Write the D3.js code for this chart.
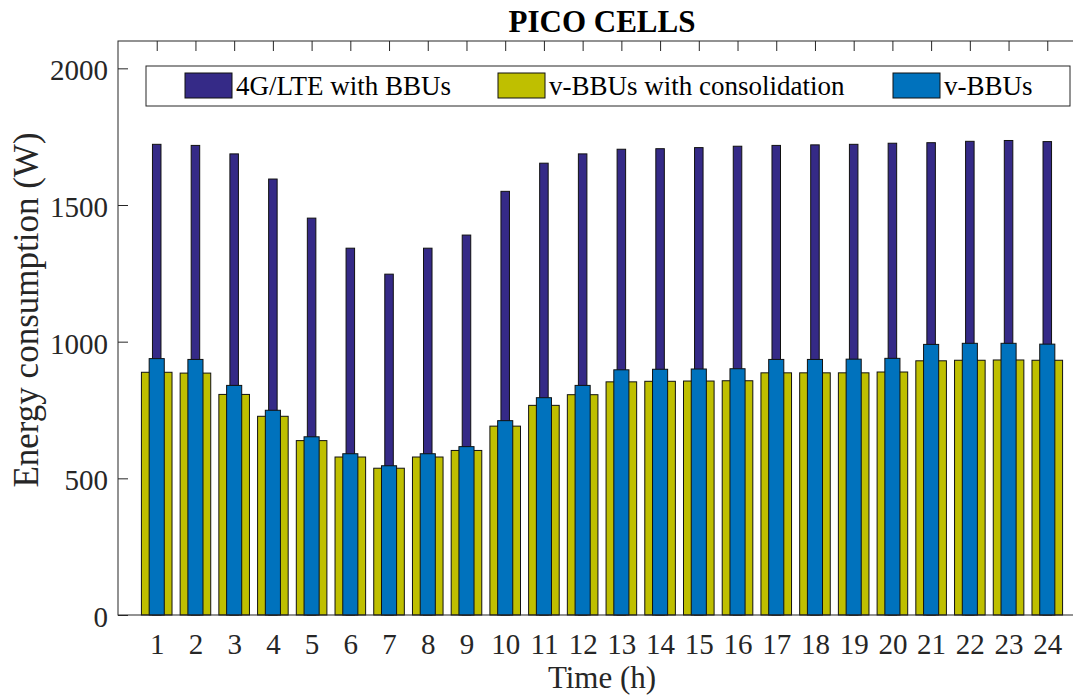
<!DOCTYPE html>
<html>
<head>
<meta charset="utf-8">
<script src="https://cdn.jsdelivr.net/npm/d3@7"></script>
<style>
  body { margin: 0; background: #fff; }
  svg { display: block; font-family: "Liberation Serif", "Times New Roman", serif; }
  .tick text { fill: #262626; }
  .tick line { stroke: #262626; }
</style>
</head>
<body>
<script>
'use strict';

// hours on the x axis
var hours = d3.range(1, 25);
// series values (W)
var lteBBU = [1722, 1718, 1687, 1595, 1452, 1342, 1247, 1342, 1390, 1550, 1653, 1687,
              1704, 1706, 1710, 1715, 1718, 1720, 1722, 1726, 1728, 1733, 1736, 1732];
var vbbuConsol = [888, 885, 807, 727, 638, 578, 537, 578, 602, 691, 767, 806,
                  853, 855, 856, 857, 886, 886, 886, 889, 930, 932, 933, 932];
var vbbu = [938, 935, 840, 749, 652, 590, 546, 590, 616, 711, 795, 840,
            897, 899, 900, 901, 935, 935, 936, 939, 990, 994, 994, 991];
var yTicks = [0, 500, 1000, 1500, 2000];
var seriesNames = ["4G/LTE with BBUs", "v-BBUs with consolidation", "v-BBUs"];
var seriesColors = ["#352a87", "#bfbf00", "#0072bd"];

var myChart = {};
myChart.width = 1073;
myChart.height = 696;
myChart.left = 118;
myChart.right = 1086;
myChart.top = 41;
myChart.bottom = 615;

myChart.x = d3.scaleLinear().domain([0, 25]).range([myChart.left, myChart.right]);
myChart.y = d3.scaleLinear().domain([0, 2100]).range([myChart.bottom, myChart.top]);

myChart.appendSvg = function(domObj){
    return d3.select(domObj)
        .append("svg")
        .attr("width", myChart.width)
        .attr("height", myChart.height);
}

myChart.appendAxes = function(svg){
    var x = myChart.x, y = myChart.y;

    svg.append("g")
        .attr("transform", "translate(" + myChart.left + ",0)")
        .call(d3.axisLeft(y).tickValues(yTicks).tickSize(-10).tickPadding(10).tickFormat(d3.format("d")))
        .call(function(g){
            g.select(".domain").remove();
            g.selectAll("text").attr("font-size", 29).attr("dy", "0.4em")
                .attr("font-family", "Liberation Serif");
        });

    svg.append("g")
        .attr("transform", "translate(0," + myChart.bottom + ")")
        .call(d3.axisBottom(x).tickValues(hours).tickSize(-10).tickPadding(18).tickFormat(d3.format("d")))
        .call(function(g){
            g.select(".domain").remove();
            g.selectAll("text").attr("font-size", 29).attr("font-family", "Liberation Serif");
        });

    svg.append("g")
        .attr("transform", "translate(0," + myChart.top + ")")
        .call(d3.axisTop(x).tickValues(hours).tickSize(-10).tickFormat(""))
        .call(function(g){ g.select(".domain").remove(); });
}

myChart.appendBars = function(svg, data, color, widthFrac, cls){
    var x = myChart.x, y = myChart.y;
    var bw = (x(1) - x(0)) * widthFrac;
    svg.selectAll("." + cls)
        .data(data)
        .enter()
            .append("rect")
            .classed(cls, true)
            .attr("x", function(d, i){ return x(hours[i]) - bw / 2; })
            .attr("y", function(d){ return y(d); })
            .attr("width", bw)
            .attr("height", function(d){ return y(0) - y(d); })
            .attr("fill", color)
            .attr("stroke", "#111")
            .attr("stroke-width", 1);
}

myChart.appendFrame = function(svg){
    svg.append("rect")
        .attr("x", myChart.left)
        .attr("y", myChart.top)
        .attr("width", myChart.right - myChart.left)
        .attr("height", myChart.bottom - myChart.top)
        .attr("fill", "none")
        .attr("stroke", "#262626")
        .attr("stroke-width", 1);
}

myChart.appendLegend = function(svg){
    var lg = svg.append("g");
    lg.append("rect")
        .attr("x", 146).attr("y", 66)
        .attr("width", 924).attr("height", 40)
        .attr("fill", "#fff")
        .attr("stroke", "#262626")
        .attr("stroke-width", 1);

    var itemX = [185, 498, 893];
    seriesNames.forEach(function(name, i){
        lg.append("rect")
            .attr("x", itemX[i]).attr("y", 73)
            .attr("width", 47).attr("height", 25)
            .attr("fill", seriesColors[i])
            .attr("stroke", "#111");
        lg.append("text")
            .attr("x", itemX[i] + 51).attr("y", 95)
            .attr("font-size", 27)
            .attr("fill", "#000")
            .text(name);
    });
}

myChart.appendLabels = function(svg){
    svg.append("text")
        .attr("x", (myChart.left + myChart.right) / 2)
        .attr("y", 32)
        .attr("text-anchor", "middle")
        .attr("font-size", 31)
        .attr("font-weight", "bold")
        .attr("fill", "#000")
        .text("PICO CELLS");

    svg.append("text")
        .attr("x", 602)
        .attr("y", 688)
        .attr("text-anchor", "middle")
        .attr("font-size", 31)
        .attr("fill", "#262626")
        .text("Time (h)");

    svg.append("text")
        .attr("transform", "translate(38,310) rotate(-90)")
        .attr("text-anchor", "middle")
        .attr("font-size", 35)
        .attr("fill", "#262626")
        .text("Energy consumption (W)");
}

myChart.run = function(){
    var svg = myChart.appendSvg("body");
    myChart.appendAxes(svg);
    myChart.appendBars(svg, lteBBU, seriesColors[0], 0.22, "bar-lte");
    myChart.appendBars(svg, vbbuConsol, seriesColors[1], 0.79, "bar-consol");
    myChart.appendBars(svg, vbbu, seriesColors[2], 0.39, "bar-vbbu");
    myChart.appendFrame(svg);
    myChart.appendLegend(svg);
    myChart.appendLabels(svg);
}

window.onload = myChart.run;
</script>
</body>
</html>
